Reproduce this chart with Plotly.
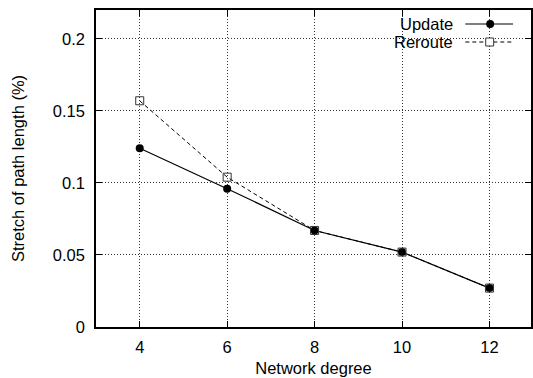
import plotly.graph_objects as go

degrees = [4, 6, 8, 10, 12]
update_vals = [0.124, 0.096, 0.067, 0.052, 0.027]
reroute_vals = [0.157, 0.104, 0.067, 0.052, 0.027]
x_ticks = [4, 6, 8, 10, 12]
y_ticks = [0, 0.05, 0.1, 0.15, 0.2]
y_tick_labels = ["0", "0.05", "0.1", "0.15", "0.2"]

FONT = "Liberation Sans, Arial, Helvetica, sans-serif"
FS = 16.5
W, H = 533, 378
L, R, T, B = 96, 533, 10, 327

fig = go.Figure()
fig.add_trace(go.Scatter(
    x=degrees, y=update_vals, mode="lines+markers", name="Update",
    line=dict(color="black", width=1.2),
    marker=dict(symbol="circle", size=8, color="black"),
    showlegend=False))
fig.add_trace(go.Scatter(
    x=degrees, y=reroute_vals, mode="lines+markers", name="Reroute",
    line=dict(color="black", width=1, dash="4px,3px"),
    marker=dict(symbol="square-open", size=8, color="#333333", line=dict(width=1)),
    showlegend=False))

def px_x(p):
    return (p - L) / (R - L)

def px_y(p):
    return 1 - (p - T) / (B - T)

# gnuplot-style legend (text right-aligned, sample to the right)
leg = [("Update", 24, "solid", "circle"), ("Reroute", 42, "dash", "square")]
for name, ypix, dash, sym in leg:
    fig.add_annotation(xref="paper", yref="paper", x=px_x(457), y=px_y(ypix), text=name,
                       showarrow=False, xanchor="right", yanchor="middle",
                       font=dict(family=FONT, size=FS, color="black"))
    fig.add_shape(type="line", xref="paper", yref="paper",
                  x0=px_x(467), x1=px_x(515), y0=px_y(ypix), y1=px_y(ypix),
                  line=dict(color="black", width=1.2 if dash == "solid" else 1,
                            dash="solid" if dash == "solid" else "4px,3px"))
    if sym == "circle":
        fig.add_shape(type="circle", xref="paper", yref="paper",
                      x0=px_x(488), x1=px_x(496), y0=px_y(ypix - 4), y1=px_y(ypix + 4),
                      fillcolor="black", line=dict(color="black", width=0))
    else:
        fig.add_shape(type="rect", xref="paper", yref="paper",
                      x0=px_x(487.5), x1=px_x(495.5), y0=px_y(ypix - 4), y1=px_y(ypix + 4),
                      fillcolor="white", line=dict(color="#333333", width=1))

fig.update_layout(
    width=W, height=H,
    margin=dict(l=L, r=W - R, t=T, b=H - B, pad=0),
    paper_bgcolor="white", plot_bgcolor="white",
    font=dict(family=FONT, size=FS, color="black"),
    xaxis=dict(
        range=[3, 12.95], tickvals=x_ticks, ticktext=[str(v) for v in x_ticks],
        ticks="inside", ticklen=6, tickwidth=1, tickcolor="black",
        ticklabelstandoff=4,
        showline=True, linecolor="black", linewidth=1.5, mirror="allticks",
        showgrid=True, gridcolor="#333333", griddash="1px,2px", gridwidth=1,
        zeroline=False,
        title=dict(text="Network degree", font=dict(family=FONT, size=FS), standoff=8),
    ),
    yaxis=dict(
        range=[0, 0.22], tickvals=y_ticks, ticktext=y_tick_labels,
        ticks="inside", ticklen=6, tickwidth=1, tickcolor="black",
        ticklabelstandoff=6,
        showline=True, linecolor="black", linewidth=1.5, mirror="allticks",
        showgrid=True, gridcolor="#333333", griddash="1px,2px", gridwidth=1,
        zeroline=False,
        title=dict(text="Stretch of path length (%)", font=dict(family=FONT, size=FS), standoff=24),
    ),
)

fig.write_html("out.html", config={"displayModeBar": False},
               post_script="document.body.style.margin='0';document.body.style.overflow='hidden';")
